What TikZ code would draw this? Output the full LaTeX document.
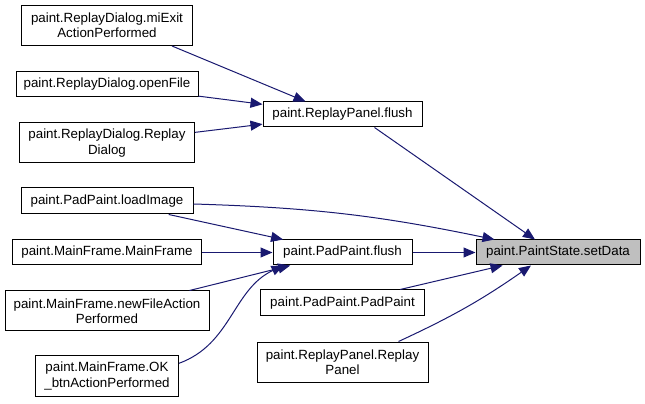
\documentclass[tikz,border=0pt]{standalone}
\usepackage{fontspec}
\setmainfont{Liberation Sans}
\usepackage{xcolor}
\usetikzlibrary{positioning,arrows.meta,calc}
\definecolor{calledge}{HTML}{191970}
\definecolor{focusgray}{HTML}{BFBFBF}

\begin{document}
\begin{tikzpicture}[
    x=0.75pt, y=0.75pt,
    >={Triangle[length=9pt, width=7.5pt]},
    call/.style={->, line width=0.75pt, calledge},
    boxw/.style={minimum width=#1*0.75pt},
    boxh/.style={minimum height=#1*0.75pt},
    fn/.style={
        rectangle, draw=black, line width=0.75pt, fill=white,
        inner sep=0pt, align=center,
        font=\fontsize{10pt}{11.5pt}\selectfont
    },
    focus/.style={fn, fill=focusgray}
]
\useasboundingbox (0,0) rectangle (645,403);

% ---------------- Callers, left column ----------------
\node[fn, boxw=171, boxh=40] (miExit)    at (107,377.5) {paint.ReplayDialog.miExit\\ActionPerformed};
\node[fn, boxw=182, boxh=25] (openFile)  at (107,318.5) {paint.ReplayDialog.openFile};
\node[fn, boxw=175, boxh=40] (rdReplay)  at (107,260)   {paint.ReplayDialog.Replay\\Dialog};
\node[fn, boxw=172, boxh=26] (loadImage) at (107,202)   {paint.PadPaint.loadImage};
\node[fn, boxw=189, boxh=25] (mfMain)    at (107,150.5) {paint.MainFrame.MainFrame};
\node[fn, boxw=204, boxh=40] (newFile)   at (107,92)    {paint.MainFrame.newFileAction\\Performed};
\node[fn, boxw=143, boxh=41] (okBtn)     at (107,27)    {paint.MainFrame.OK\\\_btnActionPerformed};

% ---------------- Callers, middle column ----------------
\node[fn, boxw=159, boxh=25] (rpFlush)   at (342.5,288.5) {paint.ReplayPanel.flush};
\node[fn, boxw=139, boxh=25] (ppFlush)   at (342.5,150.5) {paint.PadPaint.flush};
\node[fn, boxw=164, boxh=26] (ppPad)     at (342.5,100)   {paint.PadPaint.PadPaint};
\node[fn, boxw=171, boxh=40] (rpReplay)  at (342.5,41)    {paint.ReplayPanel.Replay\\Panel};

% ---------------- Called function ----------------
\node[focus, boxw=164, boxh=25] (setData) at (558,150.5) {paint.PaintState.setData};

% ---------------- Calls into ReplayPanel.flush ----------------
\draw[call] ($(miExit.south)+(65,0)$) -- ($(rpFlush.north)+(-37,0)$);
\draw[call] (openFile) -- (rpFlush);
\draw[call] (rdReplay) -- (rpFlush);

% ---------------- Calls into PadPaint.flush ----------------
\draw[call] (loadImage) -- (ppFlush);
\draw[call] (mfMain) -- (ppFlush);
\draw[call] (newFile) -- (ppFlush);
\draw[call] (okBtn.10) to[out=20, in=205] ($(ppFlush.south west)+(11,0)$);

% ---------------- Calls into PaintState.setData ----------------
\draw[call] ($(rpFlush.south)+(32,0)$) -- ($(setData.north)+(-23,0)$);
\draw[call] ($(loadImage.east)+(0,-3)$) to[bend left=5] ($(setData.north west)+(19,0)$);
\draw[call] (ppFlush) -- (setData);
\draw[call] (ppPad) -- (setData);
\draw[call] ($(rpReplay.north east)+(-30,0)$) to[bend right=5] ($(setData.south)+(-27,0)$);

\end{tikzpicture}
\end{document}
